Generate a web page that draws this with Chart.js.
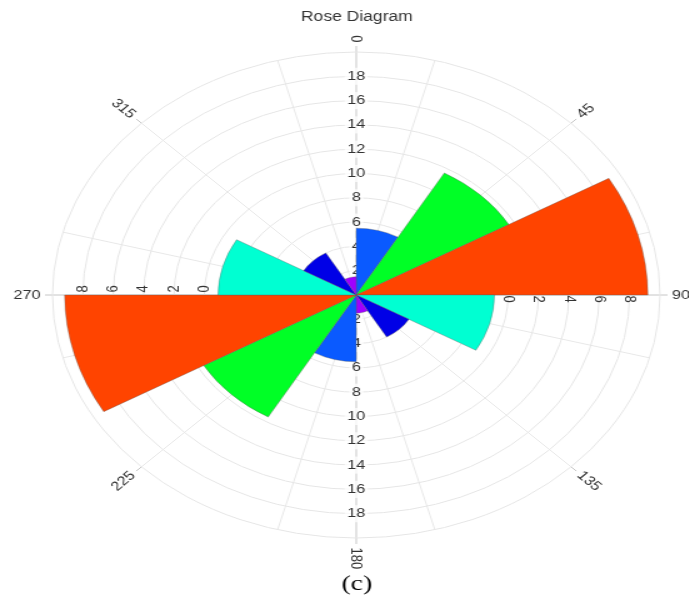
<!DOCTYPE html>
<html>
<head>
<meta charset="utf-8">
<script src="https://cdn.jsdelivr.net/npm/chart.js@4.4.0/dist/chart.umd.min.js"></script>
<style>
  html, body { margin: 0; padding: 0; background: #fff; overflow: hidden; }
  /* the reference is stretched sideways (1.25x), so the whole chart is too */
  #wrap { width: 551px; height: 601px; transform: scaleX(1.25); transform-origin: 0 0; }
</style>
</head>
<body>
<div id="wrap"><canvas id="rose" width="551" height="601"></canvas></div>
<script>
const directions = ['0-30', '30-60', '60-90', '90-120', '120-150', '150-180',
                    '180-210', '210-240', '240-270', '270-300', '300-330', '330-360'];
const lengths = [5.5, 11.6, 19.2, 9.1, 4.0, 1.5, 5.5, 11.6, 19.2, 9.1, 4.0, 1.5];
const binColors = ['#0a5aff', '#00ff26', '#ff4400', '#00ffd2', '#0000e6', '#a000ff',
                   '#0a5aff', '#00ff26', '#ff4400', '#00ffd2', '#0000e6', '#a000ff'];
const radialTicks = [2, 4, 6, 8, 10, 12, 14, 16, 18];
const sideTickRings = [10, 12, 14, 16, 18];
const sideTickLabels = ['0', '2', '4', '6', '8'];
const compassLabels = [0, 45, 90, 135, 180, 225, 270, 315];
const gridAngles = [15, 45, 75, 105, 135, 165, 195, 225, 255, 285, 315, 345];
const axisAngles = [0, 90, 180, 270];

const labelFont = '13px "Liberation Sans", Arial, sans-serif';

function toXY(scale, deg, dist) {
  const a = (deg - 90) * Math.PI / 180;
  return { x: scale.xCenter + Math.cos(a) * dist, y: scale.yCenter + Math.sin(a) * dist };
}

function spoke(ctx, scale, deg, from, to) {
  const p = toXY(scale, deg, from), q = toXY(scale, deg, to);
  ctx.beginPath();
  ctx.moveTo(p.x, p.y);
  ctx.lineTo(q.x, q.y);
  ctx.stroke();
}

function label(ctx, text, x, y, rot, backdrop) {
  ctx.save();
  ctx.translate(x, y);
  ctx.rotate(rot);
  if (backdrop) {
    const w = ctx.measureText(text).width;
    ctx.fillStyle = 'rgba(255,255,255,0.75)';
    ctx.fillRect(-w / 2 - 2, -8.5, w + 4, 17);
  }
  ctx.fillStyle = '#333';
  ctx.fillText(text, 0, 0);
  ctx.restore();
}

const roseDecor = {
  id: 'roseDecor',
  beforeDraw(chart) {
    const s = chart.scales.r, ctx = chart.ctx, R = s.drawingArea;
    ctx.save();
    ctx.lineWidth = 1;
    ctx.strokeStyle = '#e8e8e8';
    gridAngles.forEach(d => spoke(ctx, s, d, 0, R));
    ctx.strokeStyle = '#c6c6c6';
    axisAngles.forEach(d => spoke(ctx, s, d, 0, R));
    compassLabels.forEach(d => spoke(ctx, s, d, R, R + 6));
    ctx.restore();
  },
  beforeDatasetsDraw(chart) {
    const s = chart.scales.r, ctx = chart.ctx;
    ctx.save();
    ctx.font = labelFont;
    ctx.textAlign = 'center';
    ctx.textBaseline = 'middle';
    radialTicks.forEach(v => {
      label(ctx, String(v), s.xCenter, s.yCenter + s.getDistanceFromCenterForValue(v), 0, true);
    });
    sideTickRings.forEach((v, i) => {
      const d = s.getDistanceFromCenterForValue(v);
      label(ctx, sideTickLabels[i], s.xCenter + d, s.yCenter + 4, Math.PI / 2, false);
      label(ctx, sideTickLabels[i], s.xCenter - d, s.yCenter - 6, -Math.PI / 2, false);
    });
    ctx.restore();
  },
  afterDraw(chart) {
    const s = chart.scales.r, ctx = chart.ctx, R = s.drawingArea;
    ctx.save();
    ctx.font = labelFont;
    ctx.textAlign = 'center';
    ctx.textBaseline = 'middle';
    compassLabels.forEach(d => {
      const text = String(d);
      let rot = d - 90;
      while (rot > 90) rot -= 180;
      while (rot <= -90) rot += 180;
      const p = toXY(s, d, R + 9.5 + ctx.measureText(text).width / 2);
      label(ctx, text, p.x, p.y, rot * Math.PI / 180, false);
    });
    ctx.restore();
  }
};

new Chart(document.getElementById('rose'), {
  type: 'polarArea',
  data: {
    labels: directions,
    datasets: [{
      data: lengths,
      backgroundColor: binColors,
      borderColor: 'rgba(90,90,90,0.6)',
      borderWidth: 0.6
    }]
  },
  options: {
    responsive: false,
    animation: false,
    layout: { padding: { left: 34, right: 14 } },
    plugins: {
      legend: { display: false },
      tooltip: { enabled: false },
      title: {
        display: true,
        text: 'Rose Diagram',
        color: '#333',
        font: { family: '"Liberation Sans", Arial, sans-serif', size: 14, weight: 'normal' },
        padding: { top: 9, bottom: 14 }
      },
      subtitle: {
        display: true,
        position: 'bottom',
        text: '(c)',
        color: '#000',
        font: { family: '"Liberation Serif", "Times New Roman", serif', size: 22, weight: 'normal' },
        padding: { top: 19, bottom: 4 }
      }
    },
    scales: {
      r: {
        min: 0,
        max: 20,
        ticks: {
          stepSize: 2,
          color: '#333',
          font: { family: '"Liberation Sans", Arial, sans-serif', size: 13 },
          callback: v => radialTicks.includes(v) ? String(v) : '',
          showLabelBackdrop: c => !!c.tick && radialTicks.includes(c.tick.value)
        },
        grid: { color: '#e6e6e6', lineWidth: 1 },
        angleLines: { display: false },
        pointLabels: { display: false }
      }
    }
  },
  plugins: [roseDecor]
});
</script>
</body>
</html>
